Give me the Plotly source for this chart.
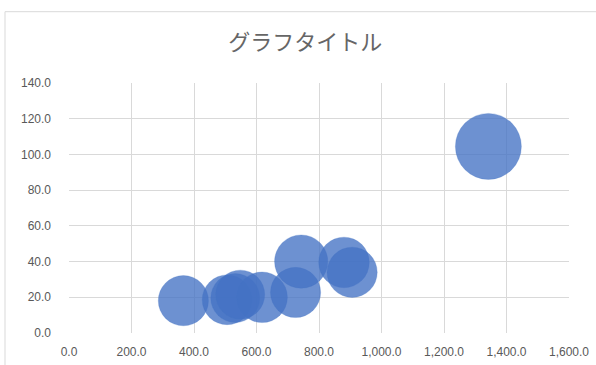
import plotly.graph_objects as go

x_vals = [366, 506, 532, 548, 618, 725, 743, 880, 906, 1342]
y_vals = [18.1, 18.6, 19.6, 21.5, 20.0, 22.7, 40.0, 39.5, 34.0, 104.5]
bubble_sizes = [6.3, 6.2, 6.0, 6.0, 6.4, 6.3, 7.1, 6.4, 6.3, 10.9]
x_ticks = [0, 200, 400, 600, 800, 1000, 1200, 1400, 1600]
y_ticks = [0, 20, 40, 60, 80, 100, 120, 140]
title_text = "グラフタイトル"

max_r = 33.0
sizeref = max(bubble_sizes) / (2 * max_r ** 2)

fig = go.Figure()
fig.add_trace(go.Scatter(
    x=x_vals, y=y_vals, mode="markers",
    marker=dict(size=bubble_sizes, sizemode="area", sizeref=sizeref,
                color="rgba(68,114,196,0.78)", opacity=1,
                line=dict(width=0.5, color="rgba(68,114,196,0.5)")),
    hoverinfo="x+y",
    showlegend=False,
))

grid = "#d9d9d9"
tick_font = dict(family="Liberation Sans", size=12, color="#595959")

fig.update_layout(
    width=596, height=365,
    margin=dict(l=69, r=27, t=83, b=32, autoexpand=False),
    paper_bgcolor="white", plot_bgcolor="white",
    title=dict(text=title_text, x=0.512, xanchor="center", y=0.885, yanchor="middle",
               font=dict(family="Noto Sans CJK JP", size=22, color="#666666")),
    xaxis=dict(range=[0, 1600], tickvals=x_ticks, tickformat=",.1f",
               showgrid=True, gridcolor=grid, gridwidth=1, zeroline=False,
               showline=False, ticks="", tickfont=tick_font, ticklabelstandoff=10,
               automargin=False, fixedrange=True),
    yaxis=dict(range=[0, 140], tickvals=y_ticks, tickformat=",.1f",
               showgrid=True, gridcolor=grid, gridwidth=1, zeroline=False,
               showline=False, ticks="", tickfont=tick_font, ticklabelstandoff=17,
               automargin=False, fixedrange=True),
    shapes=[dict(type="rect", xref="paper", yref="paper",
                 x0=(5 - 69) / 500, x1=(640 - 69) / 500,
                 y0=(333.3 - 400) / 250, y1=(333.3 - 12) / 250,
                 line=dict(color="#d9d9d9", width=1), layer="below")],
)

fig.write_html("out.html")
